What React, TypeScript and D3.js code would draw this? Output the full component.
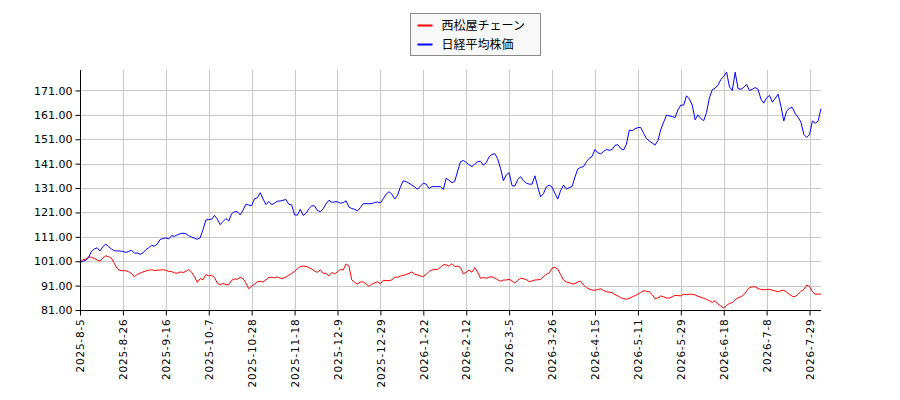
import React, { useEffect, useRef } from 'react'
import * as d3 from 'd3'

// tick labels, one every 15 trading days
const tickLabels = [
  '2025-8-5', '2025-8-26', '2025-9-16', '2025-10-7', '2025-10-28', '2025-11-18',
  '2025-12-9', '2025-12-29', '2026-1-22', '2026-2-12', '2026-3-5', '2026-3-26',
  '2026-4-15', '2026-5-11', '2026-5-29', '2026-6-18', '2026-7-8', '2026-7-29',
]
const tickStep = 15

const seriesNames = ['西松屋チェーン', '日経平均株価']

// 西松屋チェーン (relative, start = 100)
const nishimatsuya = [
  100.4, 101.6, 101.8, 102.8, 102.6, 102.1, 101.5, 101, 102.4, 103.2,
  102.9, 102.2, 100.1, 98, 97.2, 97.1, 97.1, 96.7, 96, 94.6,
  95.6, 96.1, 96.6, 97, 97.3, 97.5, 97.2, 97.3, 97.4, 97.5,
  97.3, 96.8, 96.8, 96.2, 96.1, 96.6, 96.4, 96.8, 97.6, 96.5,
  94.7, 92.3, 93.9, 93.4, 95.5, 95, 95.2, 94.4, 92, 91.3,
  91.9, 91.4, 91.3, 93.2, 93.7, 93.6, 94.4, 93.9, 92, 89.7,
  90.8, 91.6, 92.6, 92.7, 92.5, 93.4, 94.3, 94.4, 94.2, 94.6,
  94, 94, 94.5, 95.3, 96, 96.8, 98, 98.8, 99, 98.9,
  98.4, 97.8, 97, 96.4, 97.5, 96.1, 96, 95, 96.4, 95.8,
  96.7, 97.6, 97.4, 99.9, 99, 93.3, 92.3, 91.7, 92.5, 92.5,
  91.7, 90.7, 91.6, 92.1, 92.6, 91.7, 93.2, 93, 93.1, 93.3,
  94.5, 94.4, 94.9, 95.2, 95.6, 96, 96.6, 95.7, 95.4, 95,
  94.7, 95.6, 96.8, 97.4, 97.6, 97.6, 98.5, 99.6, 99.5, 99,
  100, 98.8, 99, 98.4, 95.8, 96.5, 97.3, 96.5, 98.4, 96.5,
  94, 94.3, 94, 94.5, 94.6, 94.1, 93.4, 92.8, 93.3, 93.3,
  93.6, 92.9, 92, 93.2, 94, 93.8, 93.5, 92.6, 92.9, 93.3,
  93.4, 93.6, 94.7, 95.6, 96.2, 98.1, 98.5, 97.8, 95.5, 93.3,
  92.5, 92.2, 91.7, 91.8, 92.5, 92.8, 91.2, 90.2, 89.6, 89.2,
  89.1, 89.4, 89.7, 89, 88.5, 88.3, 88.1, 87.3, 86.8, 86,
  85.7, 85.4, 85.8, 86.4, 86.9, 87.5, 88.2, 88.9, 88.7, 88.4,
  87.3, 85.6, 86, 86.8, 86.4, 85.9, 85.9, 86.4, 87, 86.9,
  86.8, 87.5, 87.3, 87.5, 87.4, 87.2, 86.6, 86.2, 85.8, 85.3,
  84.8, 84.1, 84.8, 83.5, 82.6, 81.8, 82.9, 83.7, 84, 85.2,
  86, 86.4, 87.2, 88.8, 90.2, 90.5, 90.5, 89.8, 89.4, 89.3,
  89.4, 89.5, 89.1, 88.8, 88.5, 88.9, 89.1, 88.3, 87.4, 86.6,
  86.5, 87.5, 88.7, 89.4, 91.2, 90.6, 88.5, 87.5, 87.5, 87.5,
]

// 日経平均株価 (relative, start = 100)
const nikkei = [
  100.4, 101, 101.3, 102.5, 105, 106, 106.5, 105.2, 107, 108,
  107, 106, 105.3, 105.2, 105.2, 105, 104.6, 105, 105.5, 104.3,
  104.4, 103.8, 104.4, 105.7, 106.5, 107.5, 107.2, 108, 109.9, 110.3,
  110.6, 110.1, 111.5, 111.2, 111.8, 112.3, 112.5, 112.3, 111.5, 110.9,
  110.4, 110, 110.6, 114, 117.9, 118.1, 118.2, 119.8, 118.3, 116,
  117.3, 118.5, 117.5, 120.5, 121.3, 121.3, 120, 122, 124.4, 124,
  123.8, 126.6, 127, 129.1, 126.5, 124.2, 125.5, 124.2, 124.8, 125.6,
  125.7, 126, 126.3, 124.3, 124.1, 120, 119.9, 122.3, 119.8, 120.6,
  122.5, 123.8, 123.6, 121.8, 121.3, 122.5, 124.5, 126, 125.2, 125.3,
  125.4, 124.8, 125, 125.8, 123.2, 122.6, 122.3, 121.6, 123, 124.6,
  124.6, 124.6, 124.6, 125.1, 125.3, 124.9, 126.6, 128.5, 129.5, 128.5,
  126.5, 128, 131.5, 134, 133.6, 133, 132.2, 131.4, 130.5, 131.8,
  133, 132.6, 130.8, 131.6, 131.6, 131.6, 131.6, 130.4, 135, 134.2,
  133.2, 133.8, 138, 141.8, 142.3, 141.5, 140.5, 139.8, 140.8, 141.8,
  142, 140.4, 141.4, 143.8, 144.8, 145.1, 143, 139, 134, 136.4,
  137.3, 132, 131.8, 134.5, 135.7, 134, 133, 132.6, 132.6, 136,
  131.5, 127.4, 128.7, 131.5, 132.2, 131.4, 128.8, 126.5, 130, 132.2,
  130.5, 131.2, 131.6, 135.5, 138.8, 139.5, 139.8, 141.8, 143.2, 144,
  146.8, 145.5, 145, 146, 146.8, 146.5, 146.8, 148.5, 148.8, 147.2,
  146.6, 149, 154.8, 154.5, 155.3, 155.8, 155.8, 153.4, 151.3, 150.3,
  149.5, 148.6, 150.5, 155, 158, 160.9, 160.6, 160.3, 159.9, 163,
  165, 165, 168.8, 167.5, 165, 159, 161, 159.5, 158.6, 162,
  168, 171.3, 172, 173.2, 175.5, 176.8, 178.5, 172.5, 171, 178.5,
  171.8, 171.5, 172.3, 173.5, 171, 171.5, 172.2, 171.5, 167.5, 165.8,
  168, 169, 166.2, 167.8, 169.5, 164.5, 158.5, 162.5, 163.8, 164,
  161.5, 160, 158, 153, 151.8, 152.9, 158.5, 157.5, 158.5, 163.6,
]

const yTicks = [81, 91, 101, 111, 121, 131, 141, 151, 161, 171]
const colors = ['#ff0000', '#0000ff']

const App = () => {
  const ref = useRef<SVGSVGElement>(null)

  useEffect(() => {
    const svg = d3.select(ref.current)
    svg.selectAll('*').remove()

    const margin = { top: 70, right: 79, bottom: 90, left: 80 }
    const width = 900 - margin.left - margin.right
    const height = 400 - margin.top - margin.bottom
    const font = 'DejaVu Sans, sans-serif'

    const n = nikkei.length
    const x = d3.scaleLinear().domain([0, n - 1]).range([0, width])
    const y = d3.scaleLinear().domain([81, 179.4]).range([height, 0])

    const g = svg.append('g').attr('transform', `translate(${margin.left},${margin.top})`)

    // grid
    g.selectAll('.hgrid')
      .data(yTicks)
      .enter()
      .append('line')
      .attr('x1', 0)
      .attr('x2', width)
      .attr('y1', d => Math.round(y(d)) + 0.5)
      .attr('y2', d => Math.round(y(d)) + 0.5)
      .attr('stroke', '#c8c8c8')
      .attr('stroke-width', 1)

    const xTickIdx = tickLabels.map((_, i) => i * tickStep)
    g.selectAll('.vgrid')
      .data(xTickIdx)
      .enter()
      .append('line')
      .attr('x1', d => Math.round(x(d)) + 0.5)
      .attr('x2', d => Math.round(x(d)) + 0.5)
      .attr('y1', 0)
      .attr('y2', height)
      .attr('stroke', '#c8c8c8')
      .attr('stroke-width', 1)

    // lines
    const line = d3.line<number>()
      .x((_, i) => x(i))
      .y(d => y(d))

    ;[nishimatsuya, nikkei].forEach((data, k) => {
      g.append('path')
        .datum(data)
        .attr('fill', 'none')
        .attr('stroke', colors[k])
        .attr('stroke-width', 1)
        .attr('d', line)
    })

    // axes
    const yAxis = d3.axisLeft(y)
      .tickValues(yTicks)
      .tickFormat(d => (+d).toFixed(2))
      .tickSize(5)
      .tickPadding(3)
    const ya = g.append('g').attr('transform', 'translate(0.5,0)').call(yAxis)
    ya.select('.domain').attr('d', `M0,0V${height}`).attr('stroke', '#000')
    ya.selectAll('text').attr('font-size', 11).attr('font-family', font).attr('fill', '#000')

    const xAxis = d3.axisBottom(x)
      .tickValues(xTickIdx)
      .tickFormat((_, i) => tickLabels[i])
      .tickSize(5)
    const xa = g.append('g').attr('transform', `translate(0,${height + 0.5})`).call(xAxis)
    xa.select('.domain').attr('d', `M0,0H${width}`).attr('stroke', '#000')
    xa.selectAll('text')
      .attr('font-size', 10.5)
      .attr('font-family', font)
      .attr('fill', '#000')
      .attr('letter-spacing', 0.8)
      .attr('transform', 'rotate(-90)')
      .attr('text-anchor', 'end')
      .attr('x', -8)
      .attr('y', 0)
      .attr('dy', '0.35em')

    // legend
    const lg = svg.append('g').attr('transform', 'translate(410.5,13.5)')
    lg.append('rect')
      .attr('width', 130)
      .attr('height', 42)
      .attr('fill', '#f8f8f8')
      .attr('stroke', '#888')
    seriesNames.forEach((name, k) => {
      lg.append('line')
        .attr('x1', 7)
        .attr('x2', 22)
        .attr('y1', 12 + k * 19)
        .attr('y2', 12 + k * 19)
        .attr('stroke', colors[k])
        .attr('stroke-width', 2)
      lg.append('text')
        .attr('x', 31)
        .attr('y', 12 + k * 19)
        .attr('dy', '0.35em')
        .attr('font-size', 12)
        .attr('font-family', 'Noto Sans CJK JP, sans-serif')
        .text(name)
    })
  }, [])

  return (
    <svg
      ref={ref}
      width={900}
      height={400}
      style={{ position: 'absolute', left: 0, top: 0, background: '#fff' }}
    />
  )
}

export default App
